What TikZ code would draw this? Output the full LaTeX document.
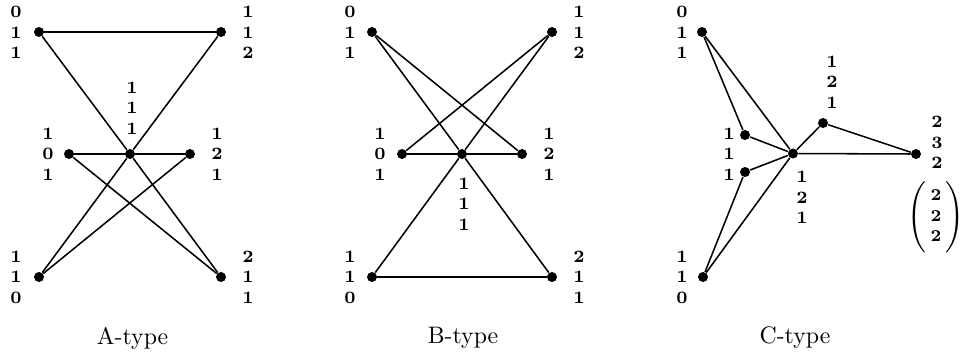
\documentclass[tikz,border=0pt]{standalone}
\usetikzlibrary{positioning}

\begin{document}
\begin{tikzpicture}[x=4.2pt, y=-4.2pt,
  dot/.style={circle, fill, inner sep=0pt, minimum size=4.2pt},
  num/.style={align=center, inner sep=0pt,
              font=\fontsize{7.3}{8.6}\selectfont\bfseries},
  edge/.style={line width=0.65pt},
  typecap/.style={font=\normalsize},
]
\useasboundingbox (0,0) rectangle (96.3,35.9);

% ---- A-type ----
\node[dot] (a011) at (3.9,3.2) {};
\node[dot] (a112) at (22.1,3.2) {};
\node[dot] (a101) at (6.9,15.4) {};
\node[dot] (a111) at (13.0,15.4) {};
\node[dot] (a121) at (19.0,15.4) {};
\node[dot] (a110) at (3.9,27.7) {};
\node[dot] (a211) at (22.1,27.7) {};

\node[num] (a011l) at (1.6,3.25) {0\\1\\1};
\node[num] (a112l) at (24.8,3.25) {1\\1\\2};
\node[num] (a111l) at (13.2,10.8) {1\\1\\1};
\node[num] (a101l) at (4.8,15.4) {1\\0\\1};
\node[num] (a121l) at (21.7,15.4) {1\\2\\1};
\node[num] (a110l) at (1.6,27.7) {1\\1\\0};
\node[num] (a211l) at (24.8,27.7) {2\\1\\1};

\draw[edge] (a011) -- (a112);
\draw[edge] (a011) -- (a111) -- (a211);
\draw[edge] (a112) -- (a111) -- (a110);
\draw[edge] (a101) -- (a111) -- (a121);
\draw[edge] (a101) -- (a211);
\draw[edge] (a121) -- (a110);
\node[typecap] (acap) at (13.25,33.8) {A-type};

% ---- B-type ----
\node[dot] (b011) at (37.2,3.2) {};
\node[dot] (b112) at (55.2,3.2) {};
\node[dot] (b101) at (40.2,15.4) {};
\node[dot] (b111) at (46.2,15.4) {};
\node[dot] (b121) at (52.2,15.4) {};
\node[dot] (b110) at (37.2,27.7) {};
\node[dot] (b211) at (55.2,27.7) {};

\node[num] (b011l) at (35.0,3.25) {0\\1\\1};
\node[num] (b112l) at (57.9,3.25) {1\\1\\2};
\node[num] (b101l) at (38.0,15.4) {1\\0\\1};
\node[num] (b121l) at (54.9,15.4) {1\\2\\1};
\node[num] (b111l) at (46.4,20.4) {1\\1\\1};
\node[num] (b110l) at (35.0,27.7) {1\\1\\0};
\node[num] (b211l) at (57.9,27.7) {2\\1\\1};

\draw[edge] (b011) -- (b121);
\draw[edge] (b011) -- (b111) -- (b211);
\draw[edge] (b112) -- (b101);
\draw[edge] (b112) -- (b111) -- (b110);
\draw[edge] (b101) -- (b111) -- (b121);
\draw[edge] (b110) -- (b211);
\node[typecap] (bcap) at (46.3,33.8) {B-type};

% ---- C-type ----
\node[dot] (c011) at (70.2,3.2) {};
\node[dot] (c110) at (70.3,27.7) {};
\node[dot] (c111a) at (74.5,13.5) {};
\node[dot] (c111b) at (74.5,17.2) {};
\node[dot] (c121) at (79.3,15.35) {};
\node[dot] (c121u) at (82.3,12.3) {};
\node[dot] (c232) at (91.6,15.4) {};

\node[num] (c011l) at (68.2,3.25) {0\\1\\1};
\node[num] (c110l) at (68.2,27.7) {1\\1\\0};
\node[num] (c111l) at (72.9,15.4) {1\\1\\1};
\node[num] (c121l) at (80.2,19.75) {1\\2\\1};
\node[num] (c121ul) at (83.2,8.2) {1\\2\\1};
\node[num] (c232l) at (93.7,14.25) {2\\3\\2};
\node[num] (cvec) at (93.6,21.7)
  {\arraycolsep=1.6pt
   $\left(\vphantom{\rule[-12pt]{0pt}{26pt}}\begin{array}{c}\mathbf{2}\\\mathbf{2}\\\mathbf{2}\end{array}\right)$};

\draw[edge] (c011) -- (c111a) -- (c121);
\draw[edge] (c011) -- (c121);
\draw[edge] (c110) -- (c111b) -- (c121);
\draw[edge] (c110) -- (c121);
\draw[edge] (c121) -- (c121u) -- (c232);
\draw[edge] (c121) -- (c232);
\node[typecap] (ccap) at (79.5,33.8) {C-type};

\end{tikzpicture}
\end{document}
